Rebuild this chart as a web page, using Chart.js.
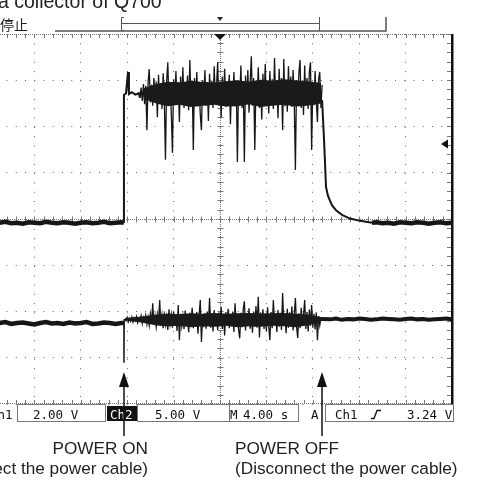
<!DOCTYPE html>
<html>
<head>
<meta charset="utf-8">
<script src="https://cdn.jsdelivr.net/npm/chart.js@4.4.1/dist/chart.umd.min.js"></script>
<style>
    html, body { margin: 0; padding: 0; background: #fff; overflow: hidden; }
    #wrap { position: relative; width: 485px; height: 492px; overflow: hidden; }
    #scope { position: absolute; left: -12px; top: 0; }
</style>
</head>
<body>
<div id="wrap"><canvas id="scope" width="497" height="492"></canvas></div>
<script>
// screen: 10 divisions of 4 s, 8 vertical divisions
const timeMin = -20;
const timeMax = 20;
const timeDiv = 4;
const divMin = -4;
const divMax = 4;

const onTime = -8.28;
const offTime = 8.79;
const ch1VoltsPerDiv = 2;
const trigLevel = 3.24;

// baseline before power on (time in s, level in divisions)
const preT = [-20, -19.5, -19, -18.5, -18, -17.5, -17, -16.5, -16, -15.5, -15, -14.5, -14, -13.5, -13, -12.5, -12, -11.5, -11, -10.5, -10, -9.5, -9, -8.5, -8.28];
const ch1Pre = [-0.07, -0.09, -0.08, -0.06, -0.09, -0.08, -0.10, -0.07, -0.08, -0.09, -0.06, -0.08, -0.09, -0.07, -0.08, -0.10, -0.08, -0.07, -0.09, -0.08, -0.06, -0.09, -0.08, -0.07, -0.08];
const ch2Pre = [-2.24, -2.26, -2.25, -2.23, -2.27, -2.25, -2.24, -2.26, -2.28, -2.25, -2.23, -2.26, -2.25, -2.27, -2.24, -2.26, -2.25, -2.23, -2.27, -2.26, -2.24, -2.25, -2.27, -2.25, -2.25];

// edge at power on
const ch1StepT = [-8.28, -8.28, -8.1, -7.93, -7.85, -7.6, -7.3, -7.0, -6.9];
const ch1Step = [-0.08, 2.68, 2.72, 3.18, 2.70, 2.74, 2.69, 2.72, 2.62];
const ch2StepT = [-8.28, -8.28, -8.26, -8.2];
const ch2Step = [-2.25, -3.11, -2.16, -2.16];

// dense core of the noise band (persistence)
const ch1CoreT = [-6.6, -5.5, -4.5, -3.5, -2.5, -1.5, -0.5, 0.5, 1.5, 2.5, 3.5, 4.5, 5.5, 6.5, 7.5, 8.7];
const ch1CoreHi = [2.82, 2.92, 2.97, 2.95, 2.99, 2.96, 2.95, 2.98, 3.00, 2.97, 3.01, 2.99, 3.02, 3.00, 2.98, 2.94];
const ch1CoreLo = [2.60, 2.50, 2.44, 2.47, 2.42, 2.45, 2.47, 2.43, 2.44, 2.48, 2.42, 2.45, 2.47, 2.43, 2.45, 2.50];
const ch2CoreT = [-8.2, -6.5, -5.5, -4.5, -3.5, -2.5, -1.5, -0.5, 0.5, 1.5, 2.5, 3.5, 4.5, 5.5, 6.5, 7.5, 8.7];
const ch2CoreHi = [-2.14, -2.10, -2.07, -2.05, -2.06, -2.04, -2.05, -2.03, -2.05, -2.04, -2.03, -2.05, -2.04, -2.03, -2.05, -2.07, -2.12];
const ch2CoreLo = [-2.19, -2.25, -2.30, -2.32, -2.31, -2.34, -2.32, -2.33, -2.31, -2.34, -2.32, -2.33, -2.31, -2.32, -2.34, -2.30, -2.23];

// sampled noise while powered (0.1 s per sample)
const sampleStep = 0.1;
const ch1NoiseStart = -6.9;
const ch1Noise = [
    2.62, 2.84, 2.55, 2.92, 2.48, 2.88, 1.92, 2.95, 3.24, 2.52,
    2.90, 2.45, 3.05, 2.58, 2.97, 2.20, 3.12, 2.50, 2.93, 2.38,
    3.15, 2.55, 1.28, 2.98, 3.39, 2.46, 2.90, 2.30, 1.43, 3.02,
    2.52, 3.20, 2.47, 2.96, 2.10, 3.08, 2.55, 3.28, 2.40, 2.94,
    2.58, 3.10, 2.35, 3.44, 2.50, 2.98, 1.49, 3.05, 2.48, 3.18,
    2.44, 2.92, 2.25, 1.92, 3.00, 2.55, 3.22, 2.45, 2.96, 2.12,
    3.14, 2.52, 2.99, 2.40, 3.30, 2.56, 2.88, 3.39, 2.45, 2.97,
    2.20, 3.08, 2.50, 3.25, 2.42, 2.94, 2.58, 3.12, 2.05, 2.96,
    2.50, 3.18, 2.44, 3.00, 1.23, 2.95, 2.55, 3.32, 2.40, 2.98,
    1.23, 3.10, 2.48, 3.22, 2.30, 2.95, 3.52, 2.45, 3.05, 1.49,
    2.92, 2.52, 3.28, 2.40, 2.97, 2.15, 3.14, 2.50, 3.35, 2.46,
    2.99, 2.28, 3.20, 2.55, 3.02, 2.38, 3.48, 2.48, 2.96, 2.18,
    3.25, 2.52, 3.05, 1.92, 3.46, 2.44, 2.98, 2.32, 3.30, 2.50,
    3.08, 2.42, 3.22, 2.56, 1.06, 3.00, 2.47, 3.15, 3.44, 2.40,
    2.95, 2.25, 3.32, 2.52, 3.05, 2.38, 3.18, 3.39, 1.49, 2.96,
    2.46, 3.20, 2.55, 2.10, 3.02, 3.18, 2.40, 2.90
];
const ch2NoiseStart = -8.2;
const ch2Noise = [
    -2.16, -2.20, -2.13, -2.22, -2.15, -2.21, -2.12, -2.23, -2.14, -2.20,
    -2.11, -2.24, -2.15, -2.19, -2.09, -2.26, -2.13, -2.21, -2.08, -2.27,
    -2.12, -2.30, -2.05, -2.24, -1.82, -2.28, -2.10, -2.33, -2.06, -2.25,
    -1.75, -2.30, -2.08, -2.36, -2.02, -2.28, -2.11, -2.40, -1.95, -2.26,
    -2.07, -2.35, -2.00, -2.31, -2.09, -2.42, -1.86, -2.62, -2.05, -2.32,
    -2.10, -2.38, -1.98, -2.29, -2.06, -2.45, -2.03, -2.30, -1.92, -2.36,
    -2.08, -2.33, -2.01, -2.48, -2.07, -1.75, -2.66, -2.10, -2.34, -2.04,
    -2.37, -2.00, -2.28, -1.71, -2.35, -2.06, -2.43, -1.97, -2.31, -2.09,
    -2.40, -2.02, -2.30, -1.90, -2.38, -2.05, -2.52, -2.01, -2.29, -1.94,
    -2.36, -2.07, -2.32, -2.00, -2.44, -1.82, -2.30, -2.05, -2.39, -2.58,
    -2.03, -2.34, -1.96, -1.78, -2.41, -2.04, -2.31, -1.93, -2.37, -2.06,
    -2.46, -2.00, -2.33, -1.88, -2.35, -1.68, -2.56, -2.02, -2.30, -1.95,
    -2.38, -2.04, -2.42, -1.91, -2.32, -2.62, -2.01, -2.36, -1.75, -2.29,
    -2.05, -2.44, -1.97, -2.33, -2.03, -2.40, -1.60, -2.31, -2.06, -2.47,
    -1.94, -2.35, -2.02, -2.30, -1.89, -2.41, -2.07, -1.71, -2.33, -2.57,
    -2.04, -2.36, -1.92, -2.29, -2.08, -1.75, -2.38, -2.01, -2.43, -1.96,
    -2.31, -1.86, -2.35, -2.05, -2.39, -2.02, -2.62, -2.10, -2.30, -2.14
];

// ch1 decay after power off
const ch1FallT = [8.8, 8.97, 9.14, 9.31, 9.65, 10.0, 10.52, 11.21, 12.07, 13.1];
const ch1Fall = [2.57, 1.71, 0.69, 0.50, 0.30, 0.19, 0.09, 0.01, -0.04, -0.08];

// baselines after power off
const ch1TailT = [13.1, 13.5, 14, 14.5, 15, 15.5, 16, 16.5, 17, 17.5, 18, 18.5, 19, 19.5, 20];
const ch1Tail = [-0.08, -0.07, -0.09, -0.08, -0.10, -0.07, -0.08, -0.09, -0.07, -0.08, -0.10, -0.08, -0.07, -0.09, -0.08];
const ch2TailT = [8.7, 9.5, 10, 10.5, 11, 11.5, 12, 12.5, 13, 13.5, 14, 14.5, 15, 15.5, 16, 16.5, 17, 17.5, 18, 18.5, 19, 19.5, 20];
const ch2Tail = [-2.16, -2.17, -2.15, -2.18, -2.16, -2.17, -2.15, -2.16, -2.18, -2.17, -2.15, -2.16, -2.17, -2.18, -2.16, -2.15, -2.17, -2.16, -2.18, -2.17, -2.16, -2.15, -2.17];

const SHIFT = 12; // canvas sits 12px left of the page
const TRACE = "#161616";

function pairs(ts, vs) {
    return vs.map((v, i) => ({ x: ts[i], y: v }));
}

function sampled(start, vs) {
    return vs.map((v, i) => ({ x: start + i * sampleStep, y: v }));
}

function trace(data, width) {
    return {
        data: data,
        borderColor: TRACE,
        borderWidth: width,
        pointRadius: 0,
        tension: 0,
        fill: false,
        borderJoinStyle: "miter",
    };
}

function band(data, fill) {
    return {
        data: data,
        borderWidth: 0,
        borderColor: "rgba(0,0,0,0)",
        backgroundColor: "#1a1a1a",
        pointRadius: 0,
        tension: 0,
        fill: fill,
    };
}

const scopeDecor = {
    id: "scopeDecor",
    beforeDatasetsDraw(chart) {
        const { ctx, chartArea: a, scales: { x, y } } = chart;
        ctx.save();
        ctx.strokeStyle = "#777";
        ctx.lineWidth = 1;

        const cx = Math.round(x.getPixelForValue(0)) + 0.5;
        const cy = Math.round(y.getPixelForValue(0)) + 0.5;
        ctx.beginPath();
        for (let t = timeMin; t <= timeMax + 1e-6; t += timeDiv / 5) {
            const px = Math.round(x.getPixelForValue(t)) + 0.5;
            ctx.moveTo(px, cy - 3); ctx.lineTo(px, cy + 3);
            ctx.moveTo(px, a.top); ctx.lineTo(px, a.top + 4);
            ctx.moveTo(px, a.bottom); ctx.lineTo(px, a.bottom - 4);
        }
        for (let d = divMin; d <= divMax + 1e-6; d += 0.2) {
            const py = Math.round(y.getPixelForValue(d)) + 0.5;
            ctx.moveTo(cx - 3, py); ctx.lineTo(cx + 3, py);
            ctx.moveTo(a.right, py); ctx.lineTo(a.right - 5, py);
        }
        ctx.stroke();

        ctx.setLineDash([1, 1]);
        ctx.beginPath();
        ctx.moveTo(a.left, a.top + 0.5); ctx.lineTo(a.right, a.top + 0.5);
        ctx.moveTo(a.left, a.bottom - 0.5); ctx.lineTo(a.right, a.bottom - 0.5);
        ctx.moveTo(cx, a.top); ctx.lineTo(cx, a.bottom);
        ctx.moveTo(a.left, cy); ctx.lineTo(a.right, cy);
        ctx.stroke();
        ctx.restore();
    },
    afterDraw(chart) {
        const { ctx, chartArea: a, scales: { x, y } } = chart;
        ctx.save();

        // right frame
        ctx.fillStyle = "#111";
        ctx.fillRect(a.right - 1, a.top, 2.5, a.bottom - a.top);

        ctx.translate(SHIFT, 0);
        const cx = x.getPixelForValue(0) - SHIFT;

        // trigger position marker
        ctx.beginPath();
        ctx.moveTo(cx - 6, a.top); ctx.lineTo(cx + 6, a.top); ctx.lineTo(cx, a.top + 6);
        ctx.closePath();
        ctx.fill();

        // trigger level marker
        const ty = y.getPixelForValue(trigLevel / ch1VoltsPerDiv);
        ctx.beginPath();
        ctx.moveTo(441, ty); ctx.lineTo(448, ty - 4.5); ctx.lineTo(448, ty + 4.5);
        ctx.closePath();
        ctx.fill();

        // title (cut at the top of the picture)
        ctx.fillStyle = "#222";
        ctx.font = '19.5px "Liberation Sans", Arial, sans-serif';
        ctx.textBaseline = "alphabetic";
        ctx.textAlign = "left";
        ctx.fillText("a collector of Q700", -2, 8);

        // record bar
        ctx.font = '14px "Noto Sans CJK JP", sans-serif';
        ctx.fillText("停止", 0, 30);
        ctx.strokeStyle = "#555";
        ctx.lineWidth = 1.5;
        ctx.beginPath();
        ctx.moveTo(55, 31); ctx.lineTo(386, 31); ctx.lineTo(386, 17);
        ctx.stroke();
        ctx.lineWidth = 1;
        ctx.beginPath();
        ctx.moveTo(121.5, 23.5); ctx.lineTo(319.5, 23.5);
        ctx.moveTo(124, 17.5); ctx.lineTo(121.5, 17.5); ctx.lineTo(121.5, 30.5); ctx.lineTo(124, 30.5);
        ctx.moveTo(319.5, 17); ctx.lineTo(319.5, 31);
        ctx.stroke();
        ctx.fillStyle = "#222";
        ctx.beginPath();
        ctx.moveTo(cx - 3, 17); ctx.lineTo(cx + 3, 17); ctx.lineTo(cx, 21);
        ctx.closePath();
        ctx.fill();

        // status line
        ctx.strokeStyle = "#777";
        ctx.lineWidth = 1;
        [[17, 105], [137, 229], [229, 298], [325, 453]].forEach(([x1, x2]) => {
            ctx.strokeRect(x1 + 0.5, 404.5, x2 - x1, 17);
        });
        ctx.fillStyle = "#111";
        ctx.fillRect(107, 406, 30, 15);
        ctx.font = '12.5px "DejaVu Sans Mono", monospace';
        ctx.fillText("Ch1", -10, 419);
        ctx.fillText("2.00 V", 33, 419);
        ctx.fillText("5.00 V", 155, 419);
        ctx.fillText("M", 230, 419);
        ctx.fillText("4.00 s", 243, 419);
        ctx.fillText("A", 311, 419);
        ctx.fillText("Ch1", 335, 419);
        ctx.fillText("3.24 V", 407, 419);
        ctx.fillStyle = "#fff";
        ctx.fillText("Ch2", 110, 419);
        ctx.strokeStyle = "#111";
        ctx.lineWidth = 1.3;
        ctx.beginPath();
        ctx.moveTo(371, 418.5); ctx.lineTo(374, 418.5); ctx.lineTo(377, 410.5); ctx.lineTo(381, 410.5);
        ctx.stroke();

        // power on / off arrows
        ctx.fillStyle = "#111";
        ctx.strokeStyle = "#111";
        ctx.lineWidth = 1.5;
        [onTime, offTime].forEach((t) => {
            const px = Math.round(x.getPixelForValue(t)) - SHIFT;
            ctx.beginPath();
            ctx.moveTo(px, 386); ctx.lineTo(px, 436);
            ctx.stroke();
            ctx.beginPath();
            ctx.moveTo(px, 372); ctx.lineTo(px + 5, 387); ctx.lineTo(px - 5, 387);
            ctx.closePath();
            ctx.fill();
        });

        ctx.fillStyle = "#222";
        ctx.font = '17.2px "Liberation Sans", Arial, sans-serif';
        ctx.textAlign = "right";
        ctx.fillText("POWER ON", 148, 454);
        ctx.fillText("(Connect the power cable)", 148, 474);
        ctx.textAlign = "left";
        ctx.fillText("POWER OFF", 235, 454);
        ctx.fillText("(Disconnect the power cable)", 235, 474);
        ctx.restore();
    }
};

const ctx = document.getElementById("scope").getContext("2d");
new Chart(ctx, {
    type: "line",
    data: {
        datasets: [
            band(pairs(ch1CoreT, ch1CoreHi), "+1"),
            band(pairs(ch1CoreT, ch1CoreLo), false),
            band(pairs(ch2CoreT, ch2CoreHi), "+1"),
            band(pairs(ch2CoreT, ch2CoreLo), false),
            trace(pairs(preT, ch1Pre), 4.5),
            trace(pairs(ch1StepT, ch1Step), 2),
            trace(sampled(ch1NoiseStart, ch1Noise), 1.3),
            trace(pairs(ch1FallT, ch1Fall), 2),
            trace(pairs(ch1TailT, ch1Tail), 4.5),
            trace(pairs(preT, ch2Pre), 4.5),
            trace(pairs(ch2StepT, ch2Step), 1.5),
            trace(sampled(ch2NoiseStart, ch2Noise), 1.3),
            trace(pairs(ch2TailT, ch2Tail), 4),
        ]
    },
    options: {
        responsive: false,
        animation: false,
        events: [],
        layout: { padding: { left: 0, right: 33, top: 34, bottom: 88 } },
        plugins: {
            legend: { display: false },
            tooltip: { enabled: false },
            title: { display: false },
        },
        scales: {
            x: {
                type: "linear",
                min: timeMin,
                max: timeMax,
                ticks: { display: false, stepSize: timeDiv },
                grid: { color: "#666", lineWidth: 1, drawTicks: false },
                border: { display: false, dash: [1, 8.28] },
            },
            y: {
                type: "linear",
                min: divMin,
                max: divMax,
                ticks: { display: false, stepSize: 1 },
                grid: { color: "#666", lineWidth: 1, drawTicks: false },
                border: { display: false, dash: [1, 8.25] },
            }
        }
    },
    plugins: [scopeDecor]
});
</script>
</body>
</html>
